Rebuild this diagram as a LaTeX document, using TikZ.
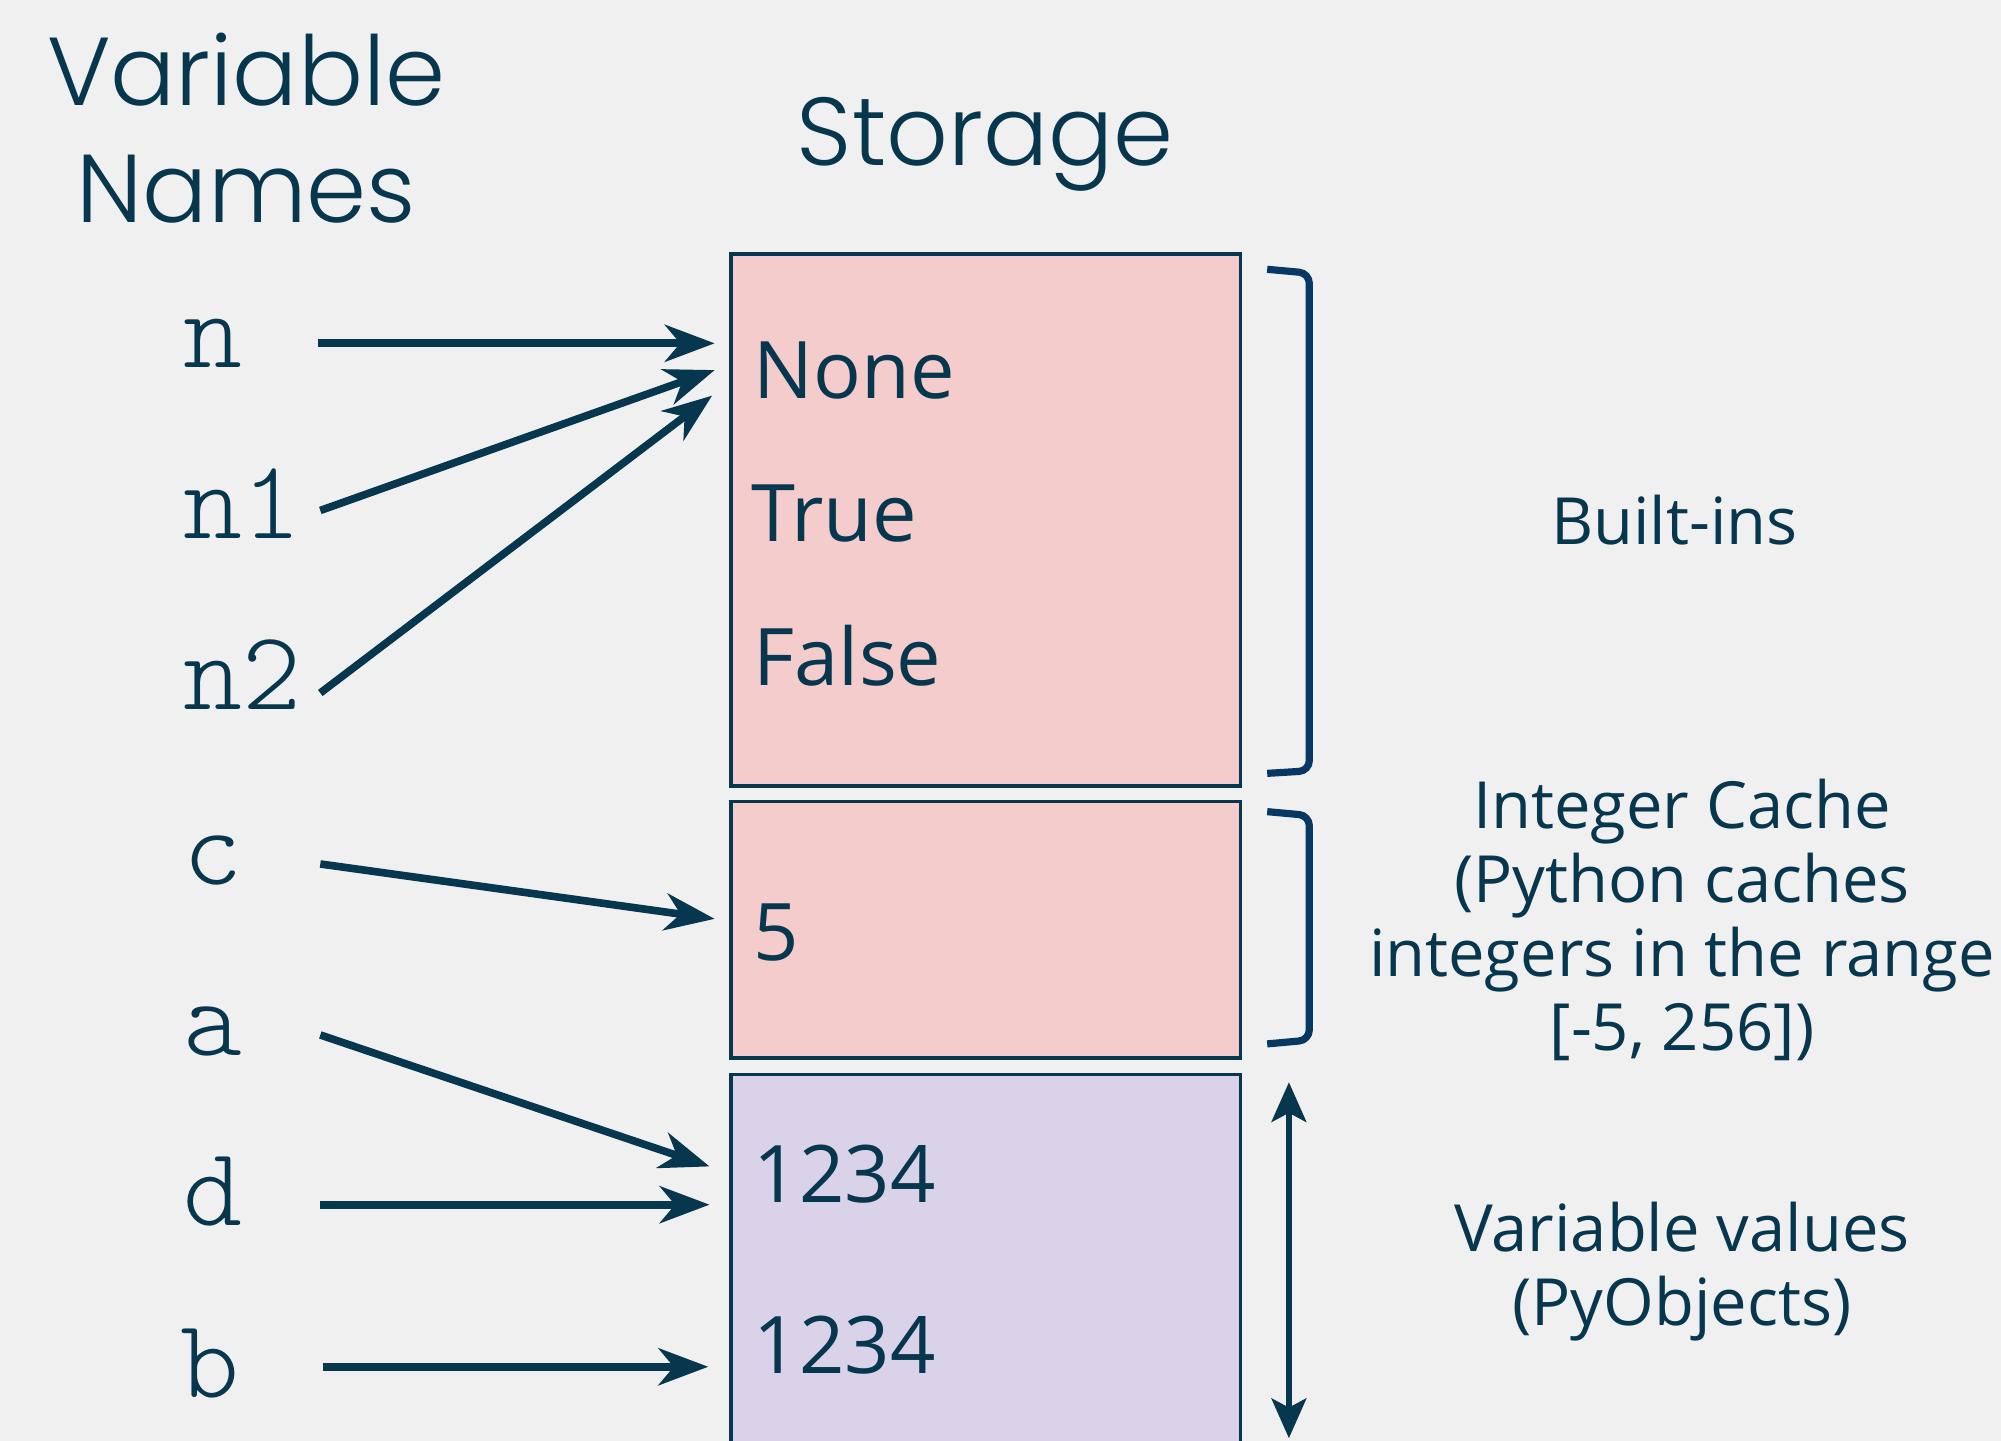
\documentclass[tikz,border=0pt]{standalone}
\usepackage{fontspec}
\setmainfont{Open Sans}
\newfontfamily\headfont{Poppins Light}
\newfontfamily\codefont{Latin Modern Mono Light}
\usetikzlibrary{arrows.meta}
\definecolor{ink}{HTML}{07374E}
\definecolor{bracketblue}{HTML}{073763}
\definecolor{paper}{HTML}{F0F0F0}
\definecolor{pinkcell}{HTML}{F4CCCC}
\definecolor{lilaccell}{HTML}{D9D2E9}
\tikzset{
  heading/.style={inner sep=0pt,text=ink,align=center,font=\headfont\fontsize{21.5}{26}\selectfont},
  varname/.style={anchor=base west,inner sep=0pt,text=ink,font=\codefont\fontsize{25}{25}\selectfont},
  cell/.style={draw=ink,line width=0.8pt},
  value/.style={anchor=base west,inner sep=0pt,text=ink,font=\fontsize{17.7}{22}\selectfont},
  note/.style={inner sep=0pt,text=ink,align=center,font=\fontsize{14.5}{16.5}\selectfont},
  ptr/.style={draw=ink,line width=1.7pt,-{Stealth[length=0.39cm,width=0.29cm,inset=0.12cm]}},
  bracket/.style={draw=bracketblue,line width=1.6pt,rounded corners=0.08cm},
  span/.style={draw=ink,line width=1.5pt,
    {Stealth[length=0.31cm,width=0.27cm,inset=0.07cm]}-{Stealth[length=0.31cm,width=0.27cm,inset=0.07cm]}},
}
\begin{document}
\begin{tikzpicture}[x=0.01cm,y=-0.01cm]
  \useasboundingbox (0,0) rectangle (1568,1129);
  \fill[paper] (0,0) rectangle (1568,1129);

  % headings
  \node[heading,anchor=north] (names-head) at (193,25) {Variable\\Names};
  \node[heading,anchor=base] (storage-head) at (772,130) {Storage};

  % storage blocks
  \draw[cell,fill=pinkcell] (573,199) rectangle (972,616);
  \draw[cell,fill=pinkcell] (573,628) rectangle (972,829);
  \draw[cell,fill=lilaccell] (573,842) rectangle (972,1160);

  \node[value] (v-none) at (590,312) {None};
  \node[value] (v-true) at (588,424) {True};
  \node[value] (v-false) at (590,537) {False};
  \node[value] (v-five) at (590,753) {5};
  \node[value] (v-big1) at (590,942) {1234};
  \node[value] (v-big2) at (590,1076) {1234};

  % variable names
  \node[varname] (n) at (143,288) {n};
  \node[varname] (n1) at (143,422) {n1};
  \node[varname] (n2) at (143,556) {n2};
  \node[varname] (c) at (143,693) {c};
  \node[varname] (a) at (143,827) {a};
  \node[varname] (d) at (143,960) {d};
  \node[varname] (b) at (141,1095) {b};

  % arrow ends
  \coordinate (n-out) at (249,269);   \coordinate (n-in) at (560,269);
  \coordinate (n1-out) at (251,400);  \coordinate (n1-in) at (560,290);
  \coordinate (n2-out) at (251,543);  \coordinate (n2-in) at (558,310);
  \coordinate (c-out) at (251,677);   \coordinate (c-in) at (560,720);
  \coordinate (a-out) at (251,811);   \coordinate (a-in) at (556,914);
  \coordinate (d-out) at (251,944);   \coordinate (d-in) at (556,944);
  \coordinate (b-out) at (253,1071);  \coordinate (b-in) at (555,1071);
  \foreach \v in {n,n1,n2,c,a,d,b}
    \draw[ptr] (\v-out) -- (\v-in);

  % brackets on the right
  \draw[bracket] (993,211) -- (1026,214) -- (1026,604) -- (993,606);
  \draw[bracket] (993,636) -- (1026,639) -- (1026,815) -- (993,818);
  \coordinate (span-top) at (1010,848);
  \coordinate (span-bot) at (1010,1127);
  \draw[span] (span-top) -- (span-bot);

  \node[note,anchor=base] (builtins) at (1312,427) {Built-ins};
  \node[note,anchor=north] (cache) at (1318,610)
    {Integer Cache\\(Python caches\\integers in the range\\{[-5, 256]})};
  \node[note,anchor=north] (pyobj) at (1318,941) {Variable values\\(PyObjects)};
\end{tikzpicture}
\end{document}
